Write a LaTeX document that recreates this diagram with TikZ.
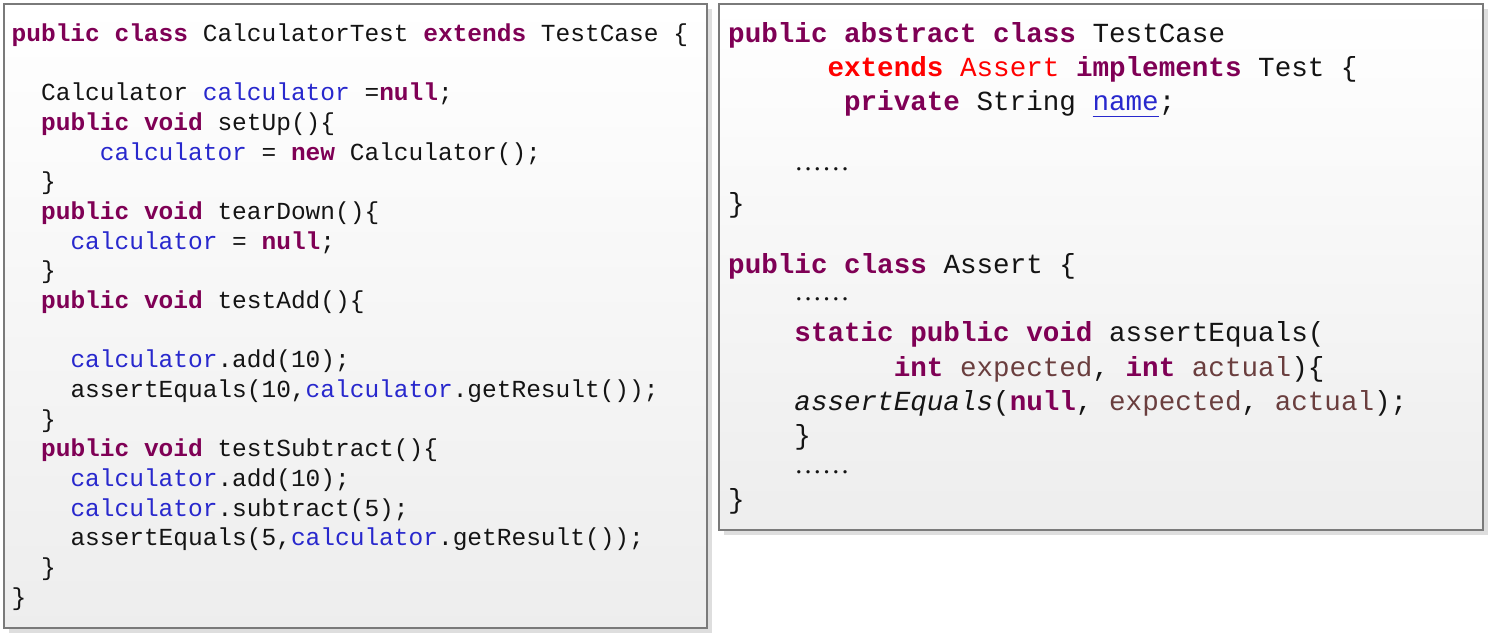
\documentclass[tikz,border=0pt]{standalone}
\usepackage{fontspec}
\setmainfont{Liberation Serif}
\setmonofont{Liberation Mono}
\definecolor{kwc}{RGB}{127,0,85}
\definecolor{fldc}{RGB}{40,40,205}
\definecolor{lvc}{RGB}{106,62,62}
\definecolor{rdc}{RGB}{255,0,0}
\definecolor{txtc}{RGB}{20,20,20}
\newcommand{\kwd}[1]{\textcolor{kwc}{\bfseries #1}}
\newcommand{\fld}[1]{\textcolor{fldc}{#1}}
\newcommand{\lvar}[1]{\textcolor{lvc}{#1}}
\newcommand{\dotsline}{{\rmfamily ……}}
\tikzset{
  codeL/.style={anchor=base west, inner sep=0pt, text=txtc, font=\ttfamily\fontsize{24.5}{29}\selectfont},
  codeR/.style={anchor=base west, inner sep=0pt, text=txtc, font=\ttfamily\fontsize{27.6}{33}\selectfont},
  panel/.style={draw=black!52, line width=1.3pt, top color=white, bottom color=black!7},
  shadowbox/.style={fill=black!13, draw=none}
}
\begin{document}
\begin{tikzpicture}[x=1pt,y=-1pt]
\useasboundingbox (0,0) rectangle (1492,636);
% panels
\fill[shadowbox] (9,9) rectangle (712,633);
\path[panel] (4,4) rectangle (707,628);
\fill[shadowbox] (724,9) rectangle (1488,535);
\path[panel] (719,4) rectangle (1483,530);
% left code
\def\lx{11.5}
\def\cw{14.7}
\node[codeL] (l0) at (\lx, 41.7) {\kwd{public class} CalculatorTest \kwd{extends} TestCase \{};
\node[codeL] (l2) at (\lx+2*\cw, 101.0) {Calculator \fld{calculator} =\kwd{null};};
\node[codeL] (l3) at (\lx+2*\cw, 130.6) {\kwd{public void} setUp()\{};
\node[codeL] (l4) at (\lx+6*\cw, 160.3) {\fld{calculator} = \kwd{new} Calculator();};
\node[codeL] (l5) at (\lx+2*\cw, 189.9) {\}};
\node[codeL] (l6) at (\lx+2*\cw, 219.6) {\kwd{public void} tearDown()\{};
\node[codeL] (l7) at (\lx+4*\cw, 249.2) {\fld{calculator} = \kwd{null};};
\node[codeL] (l8) at (\lx+2*\cw, 278.9) {\}};
\node[codeL] (l9) at (\lx+2*\cw, 308.5) {\kwd{public void} testAdd()\{};
\node[codeL] (l11) at (\lx+4*\cw, 367.8) {\fld{calculator}.add(10);};
\node[codeL] (l12) at (\lx+4*\cw, 397.5) {assertEquals(10,\fld{calculator}.getResult());};
\node[codeL] (l13) at (\lx+2*\cw, 427.1) {\}};
\node[codeL] (l14) at (\lx+2*\cw, 456.8) {\kwd{public void} testSubtract()\{};
\node[codeL] (l15) at (\lx+4*\cw, 486.4) {\fld{calculator}.add(10);};
\node[codeL] (l16) at (\lx+4*\cw, 516.1) {\fld{calculator}.subtract(5);};
\node[codeL] (l17) at (\lx+4*\cw, 545.7) {assertEquals(5,\fld{calculator}.getResult());};
\node[codeL] (l18) at (\lx+2*\cw, 575.4) {\}};
\node[codeL] (l19) at (\lx, 605.0) {\}};
% right code
\def\rx{728}
\def\rw{16.56}
\node[codeR] (r0) at (\rx, 42.5) {\kwd{public abstract class} TestCase};
\node[codeR] (r1) at (\rx+6*\rw, 76.5) {\textcolor{rdc}{\bfseries extends} \textcolor{rdc}{Assert} \kwd{implements} Test \{};
\node[codeR] (r2) at (\rx+7*\rw, 110.5) {\kwd{private} String \rlap{\textcolor{fldc}{\rule[-6.5pt]{2.4em}{1.2pt}}}\fld{name};};
\node[codeR] (r3) at (\rx+4*\rw, 171) {\dotsline};
\node[codeR] (r4) at (\rx, 213) {\}};
\node[codeR] (r5) at (\rx, 273.5) {\kwd{public class} Assert \{};
\node[codeR] (r6) at (\rx+4*\rw, 301) {\dotsline};
\node[codeR] (r7) at (\rx+4*\rw, 341.7) {\kwd{static public void} assertEquals(};
\node[codeR] (r8) at (\rx+10*\rw, 376.5) {\kwd{int} \lvar{expected}, \kwd{int} \lvar{actual})\{};
\node[codeR] (r9) at (\rx+4*\rw, 410.5) {\textit{assertEquals}(\kwd{null}, \lvar{expected}, \lvar{actual});};
\node[codeR] (r10) at (\rx+4*\rw, 444) {\}};
\node[codeR] (r11) at (\rx+4*\rw, 473) {\dotsline};
\node[codeR] (r12) at (\rx, 508) {\}};
\end{tikzpicture}
\end{document}
